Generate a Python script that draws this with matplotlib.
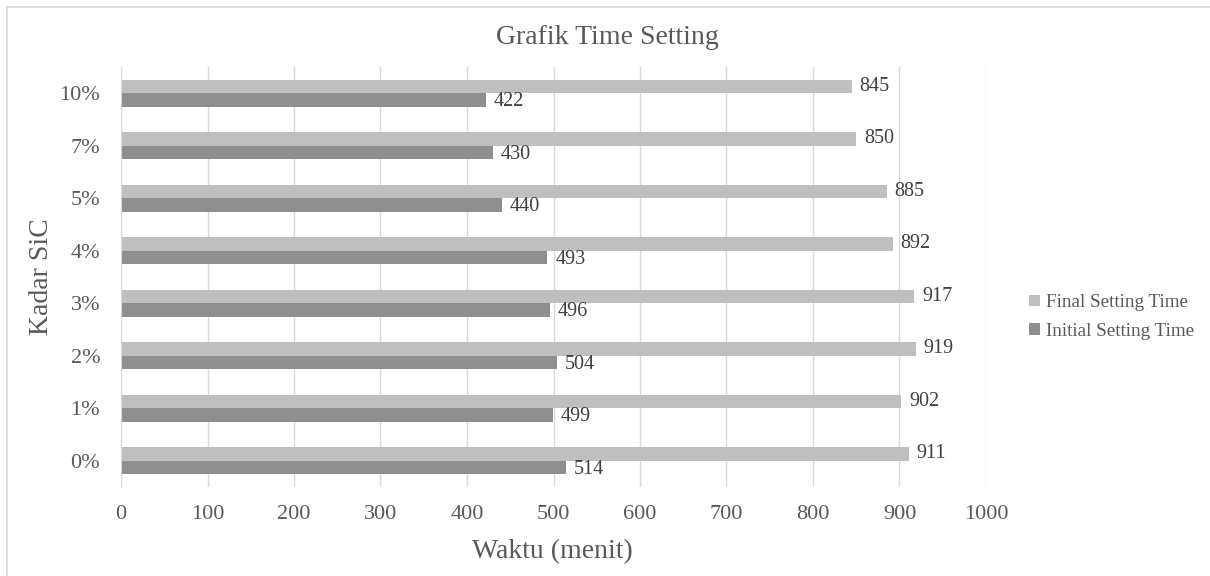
import matplotlib.pyplot as plt
import numpy as np
from matplotlib.patches import Rectangle

# data
categories = ['0%', '1%', '2%', '3%', '4%', '5%', '7%', '10%']
final_setting = [911, 902, 919, 917, 892, 885, 850, 845]
initial_setting = [514, 499, 504, 496, 493, 440, 430, 422]
x_ticks = [0, 100, 200, 300, 400, 500, 600, 700, 800, 900, 1000]

plt.rcParams['font.family'] = ['Liberation Serif', 'DejaVu Serif']
text_col = '#595959'

W, H = 1210, 576
fig = plt.figure(figsize=(W / 100, H / 100), dpi=100)
ax = fig.add_axes([121 / W, 1 - 487 / H, (986 - 121) / W, (487 - 67) / H])

# chart border (only top and left fall inside the crop)
fig.add_artist(Rectangle((7 / W, -0.1), 1.2, 1 - 7 / H + 0.1, transform=fig.transFigure,
                         fill=False, edgecolor='#d9d9d9', linewidth=1.2))

y = np.arange(len(categories))
h = 0.26
bars_f = ax.barh(y + h / 2, final_setting, height=h, color='#bfbfbf', label='Final Setting Time')
bars_i = ax.barh(y - h / 2, initial_setting, height=h, color='#8f8f8f', label='Initial Setting Time')

for b, v in zip(bars_f, final_setting):
    ax.text(v + 9, b.get_y() + b.get_height() / 2, str(v), va='center', ha='left',
            fontsize=14.5, color='#404040')
for b, v in zip(bars_i, initial_setting):
    ax.text(v + 9, b.get_y() + b.get_height() / 2 - 0.03, str(v), va='center', ha='left',
            fontsize=14.5, color='#404040')

ax.set_xlim(0, 1000)
ax.set_ylim(-0.5, len(categories) - 0.5)
ax.set_xticks(x_ticks)
ax.set_yticks(y)
ax.set_yticklabels(categories)
ax.xaxis.grid(True, color='#d9d9d9', linewidth=1)
ax.set_axisbelow(True)
for s in ['top', 'right', 'bottom']:
    ax.spines[s].set_visible(False)
ax.spines['left'].set_color('#d9d9d9')
ax.tick_params(axis='both', length=0, labelsize=16, labelcolor=text_col)
ax.tick_params(axis='x', pad=13)
ax.tick_params(axis='y', pad=15)

fig.text(552 / W, 1 - 552 / H, 'Waktu (menit)', ha='center', va='center',
         fontsize=20, color=text_col)
fig.text(42 / W, 1 - 277 / H, 'Kadar SiC', ha='center', va='center', rotation=90,
         fontsize=20, color=text_col)
fig.text(607 / W, 1 - 37 / H, 'Grafik Time Setting', ha='center', va='center',
         fontsize=20, color=text_col)

leg = fig.legend(handles=[bars_f, bars_i], loc='center left',
                 bbox_to_anchor=(1012 / W, 1 - 317 / H), frameon=False,
                 fontsize=13.8, handlelength=0.55, handleheight=0.55, handletextpad=0.3,
                 labelspacing=0.6)
for t in leg.get_texts():
    t.set_color(text_col)

fig.savefig('out.png', dpi=100)
